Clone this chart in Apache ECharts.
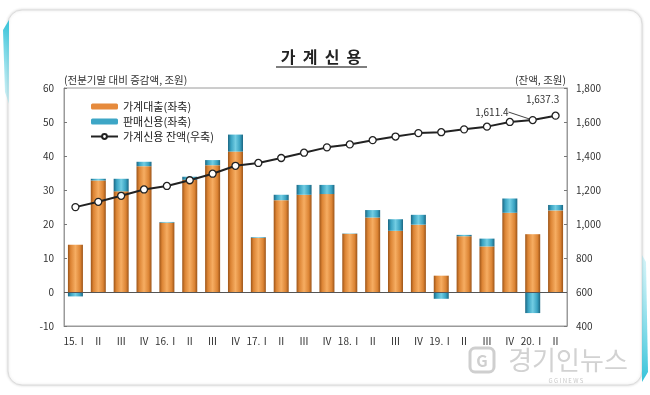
<!DOCTYPE html>
<html>
<head>
<meta charset="utf-8">
<script src="https://cdn.jsdelivr.net/npm/echarts@6/dist/echarts.min.js"></script>
<style>
html,body{margin:0;padding:0;background:#fff;}
#chart{width:650px;height:395px;}
</style>
</head>
<body>
<div id="chart"></div>
<script>
var categories = ['15.Ⅰ','Ⅱ','Ⅲ','Ⅳ','16.Ⅰ','Ⅱ','Ⅲ','Ⅳ','17.Ⅰ','Ⅱ','Ⅲ','Ⅳ','18.Ⅰ','Ⅱ','Ⅲ','Ⅳ','19.Ⅰ','Ⅱ','Ⅲ','Ⅳ','20.Ⅰ','Ⅱ'];
var householdLoans = [13.9, 32.8, 29.6, 37.0, 20.4, 33.0, 37.3, 41.3, 15.9, 27.0, 28.6, 28.8, 17.1, 21.9, 18.0, 19.8, 4.8, 16.4, 13.4, 23.3, 17.0, 24.0];
var salesCredit = [-1.3, 0.5, 3.7, 1.3, 0.2, 0.9, 1.5, 5.0, 0.2, 1.6, 2.9, 2.7, 0.1, 2.2, 3.4, 2.9, -2.0, 0.4, 2.3, 4.2, -6.2, 1.6];
var creditBalance = [1099.3, 1130.5, 1166.0, 1203.1, 1223.7, 1257.3, 1295.8, 1342.5, 1359.1, 1388.3, 1419.3, 1450.8, 1468.0, 1493.2, 1514.4, 1534.6, 1540.0, 1556.7, 1572.7, 1600.3, 1611.4, 1637.3];
var seriesNames = ['가계대출(좌축)', '판매신용(좌축)', '가계신용 잔액(우축)'];
var leftTicks = { min: -10, max: 60, interval: 10 };
var rightTicks = { min: 400, max: 1800, interval: 200 };

var FONT = '"Noto Sans CJK KR", "Noto Sans", sans-serif';
var chart = echarts.init(document.getElementById('chart'), null, { renderer: 'canvas' });

var orangeGrad = new echarts.graphic.LinearGradient(0, 0, 1, 0, [
  { offset: 0, color: '#9c5418' }, { offset: 0.18, color: '#dc8434' },
  { offset: 0.5, color: '#f6ad62' }, { offset: 0.82, color: '#dc8434' },
  { offset: 1, color: '#9c5418' }
]);
var blueGrad = new echarts.graphic.LinearGradient(0, 0, 1, 0, [
  { offset: 0, color: '#1b6682' }, { offset: 0.2, color: '#3aa3c2' },
  { offset: 0.5, color: '#72cde3' }, { offset: 0.8, color: '#3aa3c2' },
  { offset: 1, color: '#1b6682' }
]);

var nB = creditBalance.length;
var balanceData = creditBalance.map(function (v, i) {
  var item = { value: v };
  if (i === nB - 2) {
    item.label = { show: true, position: 'left', distance: 6 };
    item.labelLine = { show: true };
  } else if (i === nB - 1) {
    item.label = { show: true, position: 'top', distance: 5 };
    item.labelLine = { show: false };
  }
  return item;
});

var option = {
  animation: false,
  backgroundColor: '#fff',
  textStyle: { fontFamily: FONT },
  grid: { left: 64, right: 83, top: 88, bottom: 69, show: true, borderColor: '#9a9a9a', borderWidth: 1, backgroundColor: 'transparent' },
  legend: {
    orient: 'vertical', left: 85, top: 95, itemGap: 2,
    itemWidth: 27, itemHeight: 6,
    textStyle: { fontFamily: FONT, fontSize: 11, color: '#222', lineHeight: 13 },
    data: [
      { name: seriesNames[0], icon: 'roundRect', itemStyle: { color: '#e68a3c' } },
      { name: seriesNames[1], icon: 'roundRect', itemStyle: { color: '#3da6c6' } },
      { name: seriesNames[2] }
    ]
  },
  xAxis: {
    type: 'category', data: categories,
    axisLine: { onZero: false, lineStyle: { color: '#9a9a9a' } },
    axisTick: { show: false },
    axisLabel: { fontFamily: FONT, fontSize: 10, color: '#333', margin: 10, interval: 0 }
  },
  yAxis: [
    {
      type: 'value', min: leftTicks.min, max: leftTicks.max, interval: leftTicks.interval,
      splitLine: { show: false },
      axisLine: { show: true, lineStyle: { color: '#9a9a9a' } },
      axisTick: { show: true, inside: true, length: 3, lineStyle: { color: '#777' } },
      axisLabel: { fontFamily: FONT, fontSize: 10, color: '#333', margin: 10 }
    },
    {
      type: 'value', min: rightTicks.min, max: rightTicks.max, interval: rightTicks.interval,
      position: 'right',
      splitLine: { show: false },
      axisLine: { show: true, lineStyle: { color: '#9a9a9a' } },
      axisTick: { show: true, inside: true, length: 3, lineStyle: { color: '#777' } },
      axisLabel: { fontFamily: FONT, fontSize: 10, color: '#333', margin: 9,
        formatter: function (v) { return v.toLocaleString('en-US'); } }
    }
  ],
  series: [
    {
      name: seriesNames[0], type: 'bar', stack: 'credit', data: householdLoans,
      barWidth: 15, itemStyle: { color: orangeGrad },
      markLine: {
        silent: true, symbol: 'none', label: { show: false },
        lineStyle: { color: '#555', width: 1, type: 'solid' },
        data: [{ yAxis: 0 }]
      }
    },
    {
      name: seriesNames[1], type: 'bar', stack: 'credit', data: salesCredit,
      barWidth: 15, itemStyle: { color: blueGrad }
    },
    {
      name: seriesNames[2], type: 'line', yAxisIndex: 1, data: balanceData, z: 5,
      symbol: 'circle', symbolSize: 7,
      lineStyle: { color: '#222', width: 2 },
      itemStyle: { color: '#fff', borderColor: '#222', borderWidth: 1.3 },
      label: {
        show: false, fontFamily: FONT, fontSize: 10, color: '#333',
        formatter: function (p) { return p.value.toLocaleString('en-US', { minimumFractionDigits: 1 }); }
      },
      labelLine: { show: true, lineStyle: { color: '#444', width: 1 } },
      labelLayout: function (p) {
        if (p.dataIndex === nB - 2) { return { dx: -14, dy: -8 }; }
        if (p.dataIndex === nB - 1) { return { dx: -13, dy: -2 }; }
        return {};
      }
    }
  ],
  graphic: [
    { type: 'rect', z: -10, shape: { x: 8, y: 10, width: 634, height: 375, r: 14 },
      style: { fill: '#fff', stroke: '#dcdcdc', lineWidth: 1, shadowBlur: 3, shadowColor: 'rgba(0,0,0,0.15)' } },
    { type: 'polygon', z: -9, shape: { points: [[9, 20], [3, 30], [5, 92], [9, 104]] },
      style: { fill: new echarts.graphic.LinearGradient(0, 0, 0, 1, [{ offset: 0, color: '#36c3d9' }, { offset: 1, color: 'rgba(120,220,235,0.3)' }]) } },
    { type: 'polygon', z: -9, shape: { points: [[642, 255], [646, 262], [648, 372], [642, 382]] },
      style: { fill: new echarts.graphic.LinearGradient(0, 0, 0, 1, [{ offset: 0, color: 'rgba(120,220,235,0.3)' }, { offset: 1, color: '#36c3d9' }]) } },
    { type: 'text', x: 321, y: 57, style: { text: '가  계  신  용', fontFamily: FONT, fontSize: 16, fontWeight: 'bold', fill: '#222', align: 'center', verticalAlign: 'middle' } },
    { type: 'line', shape: { x1: 276, y1: 67, x2: 367, y2: 67 }, style: { stroke: '#555', lineWidth: 1.5 } },
    { type: 'text', x: 64, y: 80, style: { text: '(전분기말 대비 증감액, 조원)', fontFamily: FONT, fontSize: 10.5, fill: '#333', align: 'left', verticalAlign: 'middle' } },
    { type: 'text', x: 566, y: 80, style: { text: '(잔액, 조원)', fontFamily: FONT, fontSize: 10.5, fill: '#333', align: 'right', verticalAlign: 'middle' } },
    { type: 'rect', shape: { x: 470, y: 348, width: 24, height: 24, r: 5 }, style: { fill: 'none', stroke: '#cfcfcf', lineWidth: 3 } },
    { type: 'text', x: 482, y: 361, style: { text: 'G', fontFamily: FONT, fontSize: 16, fontWeight: 'bold', fill: '#cfcfcf', align: 'center', verticalAlign: 'middle' } },
    { type: 'text', x: 568, y: 360, style: { text: '경기인뉴스', fontFamily: FONT, fontSize: 26, fill: '#d2d2d2', align: 'center', verticalAlign: 'middle' } },
    { type: 'text', x: 566, y: 381, style: { text: 'G G I N E W S', fontFamily: FONT, fontSize: 6, fill: '#c8c8c8', align: 'center', verticalAlign: 'middle' } }
  ]
};
chart.setOption(option);
</script>
</body>
</html>
